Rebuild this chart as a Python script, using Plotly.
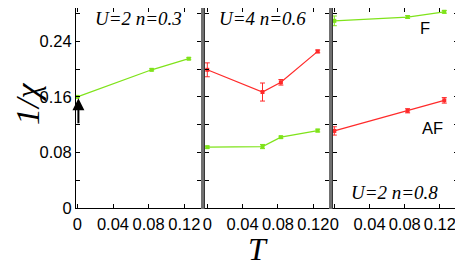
import plotly.graph_objects as go

# ---- data ----
T1 = [0, 1/12, 1/8]
F1 = [0.160, 0.199, 0.215]
F1_err = [0.0, 0.0015, 0.0015]

T2 = [0, 1/16, 1/12, 1/8]
AF2 = [0.199, 0.167, 0.181, 0.2255]
AF2_err = [0.010, 0.013, 0.004, 0.002]
F2 = [0.0876, 0.0885, 0.102, 0.1115]
F2_err = [0.0015, 0.003, 0.0015, 0.002]

T3 = [0, 1/12, 1/8]
F3 = [0.2695, 0.275, 0.2825]
F3_err = [0.007, 0.002, 0.002]
AF3 = [0.111, 0.140, 0.155]
AF3_err = [0.006, 0.003, 0.004]

xticks = [0, 0.04, 0.08, 0.12]
xticklabels = ["0", "0.04", "0.08", "0.12"]
yticks = [0, 0.04, 0.08, 0.12, 0.16, 0.20, 0.24, 0.28]
yticklabels = ["0", "", "0.08", "", "0.16", "", "0.24", ""]

GREEN = "#7fe31a"
RED = "#ff2a2a"

# page body has an 8px default margin; lay out in window pixels and compensate
OFF = 8
W, H = 463 - OFF, 268 - OFF

def px(x):
    return (x - OFF) / W

def py(y):
    return 1 - (y - OFF) / H

fig = go.Figure()

def add_series(x, y, err, color, xa, ya):
    fig.add_trace(go.Scatter(
        x=x, y=y, mode="lines+markers",
        line=dict(color=color, width=1.2),
        marker=dict(color=color, size=4, symbol="square"),
        error_y=dict(type="data", array=err, visible=True, color=color, thickness=1, width=2.5),
        xaxis=xa, yaxis=ya, showlegend=False))

add_series(T1, F1, F1_err, GREEN, "x", "y")
add_series(T2, AF2, AF2_err, RED, "x2", "y2")
add_series(T2, F2, F2_err, GREEN, "x2", "y2")
add_series(T3, F3, F3_err, GREEN, "x3", "y3")
add_series(T3, AF3, AF3_err, RED, "x3", "y3")

tickfont = dict(family="Liberation Sans, Arial, sans-serif", size=16.5, color="black")
ydom = [py(208), 1.0]
panels = [((76, 201), (-0.0015, 0.1387)), ((205, 329), (-0.0026, 0.1378)), ((333, 458), (-0.0015, 0.1406))]
for i, ((p0, p1), rng) in enumerate(panels):
    sfx = "" if i == 0 else str(i + 1)
    fig.update_layout(**{
        "xaxis" + sfx: dict(domain=[px(p0), px(p1)], range=list(rng), tickvals=xticks, ticktext=xticklabels,
                            ticks="inside", ticklen=4, tickcolor="black", showline=True, linecolor="black",
                            linewidth=1, mirror="allticks", showgrid=False, zeroline=False, tickfont=tickfont,
                            anchor="y" + sfx, automargin=False, ticklabelstandoff=1),
        "yaxis" + sfx: dict(domain=ydom, range=[0, 0.288], tickvals=yticks, ticktext=yticklabels,
                            ticks="inside", ticklen=4, tickcolor="black", showline=True, linecolor="black",
                            linewidth=1, mirror="allticks", showgrid=False, zeroline=False, tickfont=tickfont,
                            showticklabels=(i == 0), anchor="x" + sfx, automargin=False),
    })

# gray separators between panels
for x0, x1 in [(201, 204.5), (329, 332.5)]:
    fig.add_shape(type="rect", xref="paper", yref="paper", x0=px(x0), x1=px(x1),
                  y0=py(209), y1=1, fillcolor="#707070", line=dict(width=0), layer="above")

serif_it = "Liberation Serif, Times New Roman, serif"
ann = [
    dict(text="<i>U=2 n=0.3</i>", x=138.5, y=19),
    dict(text="<i>U=4 n=0.6</i>", x=262, y=19),
    dict(text="<i>U=2 n=0.8</i>", x=394.5, y=192),
]
for a in ann:
    fig.add_annotation(text=a["text"], x=px(a["x"]), y=py(a["y"]), xref="paper", yref="paper",
                       showarrow=False, font=dict(family=serif_it, size=19, color="black"),
                       xanchor="center", yanchor="middle")

fig.add_annotation(text="F", x=px(425), y=py(28), xref="paper", yref="paper", showarrow=False,
                   font=tickfont, xanchor="center", yanchor="middle")
fig.add_annotation(text="AF", x=px(432), y=py(128), xref="paper", yref="paper", showarrow=False,
                   font=tickfont, xanchor="center", yanchor="middle")

fig.add_annotation(text="<i>T</i>", x=px(258), y=py(249), xref="paper", yref="paper", showarrow=False,
                   font=dict(family=serif_it, size=32, color="black"), xanchor="center", yanchor="middle")
fig.add_annotation(text="<i>1/χ</i>", x=px(27), y=py(104), xref="paper", yref="paper", showarrow=False,
                   textangle=-90, font=dict(family=serif_it, size=34, color="black"),
                   xanchor="center", yanchor="middle")

# arrow marking T=0 point in first panel
fig.add_annotation(x=0.0012, y=0.158, ax=0.0012, ay=0.12, xref="x", yref="y", axref="x", ayref="y",
                   text="", showarrow=True, arrowhead=2, arrowsize=1.2, arrowwidth=2, arrowcolor="black")

fig.update_layout(width=W, height=H, margin=dict(l=0, r=0, t=0, b=0, autoexpand=False),
                  paper_bgcolor="white", plot_bgcolor="white")
fig.write_html("out.html")
